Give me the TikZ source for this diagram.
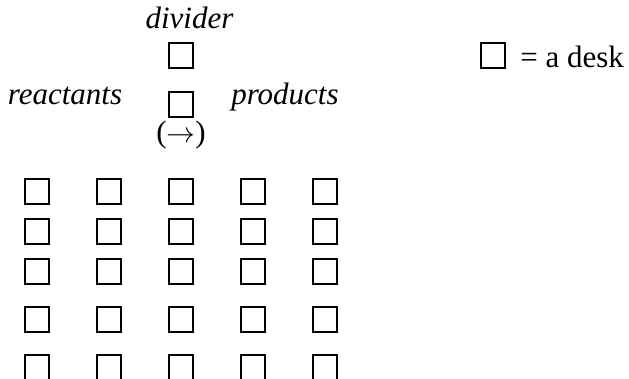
\documentclass[tikz,border=0pt]{standalone}
\usepackage{fontspec}
\setmainfont{Liberation Serif}
\usepackage{tikz}
\usetikzlibrary{positioning}

\begin{document}
\begin{tikzpicture}[
  x=0.5pt, y=-0.5pt,
  desk/.style={draw, line width=1pt, minimum size=12.3pt, inner sep=0pt},
  lbl/.style={font=\fontsize{15.5}{18}\selectfont, inner sep=0pt, anchor=base}
]
  \useasboundingbox (0,0) rectangle (629,379);
  \clip (0,0) rectangle (629,379);
  % divider column above the class
  \node[lbl] (divlbl) at (189.5,29) {\itshape divider};
  \node[desk] (div1) at (181,55.5) {};
  \node[desk] (div2) at (181,104.5) {};
  \node[lbl] (dir) at (181,142.5) {($\rightarrow$)};
  \node[lbl] (react) at (65,105) {\itshape reactants};
  \node[lbl] (prod) at (285,105) {\itshape products};
  % legend
  \node[desk] (key) at (493,55.5) {};
  \node[lbl, anchor=base west] (keylbl) at (520,68) {= a desk};
  % the desks
  \foreach \y [count=\r] in {191.5,231.5,271.5,319.5,367.5}
    \foreach \x [count=\c] in {37,109,181,253,325}
      \node[desk] (d\r\c) at (\x,\y) {};
\end{tikzpicture}
\end{document}
